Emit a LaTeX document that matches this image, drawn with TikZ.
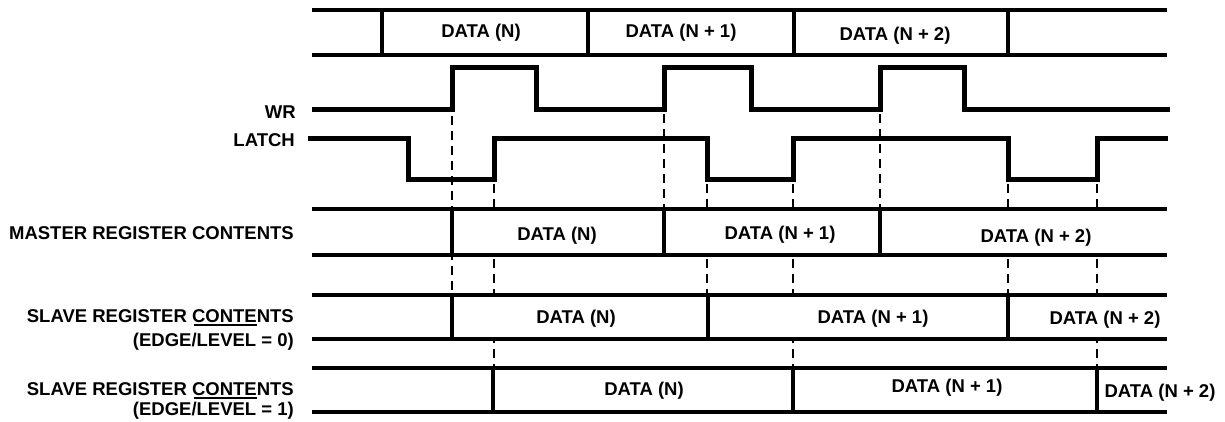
\documentclass[tikz,border=0pt]{standalone}
\usepackage{fontspec}
\setmainfont{Liberation Sans}
\newcommand\myul[1]{\setbox0=\hbox{#1}\rlap{\kern1.5pt\rule[-4pt]{\dimexpr\wd0-1.5pt\relax}{2.4pt}}\box0}
\tikzset{
  sig/.style={line width=5pt, line join=miter},
  bus/.style={line width=3.2pt},
  guide/.style={line width=2.4pt, dash pattern=on 9pt off 6pt},
  lbl/.style={font=\bfseries\fontsize{18.5}{22}\selectfont, inner sep=0pt, anchor=base},
  rlbl/.style={lbl, anchor=base east},
}
\begin{document}
\begin{tikzpicture}[x=1pt,y=-1pt]
\useasboundingbox (0,0) rectangle (1225,422);

% edge coordinates
\coordinate (g1a) at (452,116); \coordinate (g1b) at (452,295);
\coordinate (g2a) at (494,184); \coordinate (g2b) at (494,368);
\coordinate (g3a) at (664,114); \coordinate (g3b) at (664,209);
\coordinate (g4a) at (707,184); \coordinate (g4b) at (707,295);
\coordinate (g5a) at (793,184); \coordinate (g5b) at (793,368);
\coordinate (g6a) at (880,114); \coordinate (g6b) at (880,209);
\coordinate (g7a) at (1008,184); \coordinate (g7b) at (1008,295);
\coordinate (g8a) at (1097,184); \coordinate (g8b) at (1097,368);

% dashed guides
\foreach \g in {1,...,8} \draw[guide] (g\g a) -- (g\g b);

% clear guides inside rows
\fill[white] (312,209) rectangle (1167,255);
\fill[white] (312,295) rectangle (1167,339);
\fill[white] (312,368) rectangle (1167,412);

% top data bus
\draw[bus] (312,10) -- (1167,10) (312,55) -- (1167,55);
\foreach \x in {382,588,794,1008} \draw[bus] (\x,10) -- (\x,55);
\node[lbl] (t0) at (481,38) {DATA (N)};
\node[lbl] (t1) at (681,38) {DATA (N + 1)};
\node[lbl] (t2) at (895,41) {DATA (N + 2)};

% WR
\draw[sig] (312,110) -- (452,110) -- (452,68) -- (536,68) -- (536,110)
  -- (664,110) -- (664,68) -- (751,68) -- (751,110)
  -- (880,110) -- (880,68) -- (964,68) -- (964,110) -- (1170,110);
\node[rlbl] (lwr) at (296,118.5) {WR};

% LATCH
\draw[sig] (308,139) -- (408,139) -- (408,180) -- (494,180) -- (494,139)
  -- (707,139) -- (707,180) -- (793,180) -- (793,139)
  -- (1008,139) -- (1008,180) -- (1097,180) -- (1097,139) -- (1168,139);
\node[rlbl] (llatch) at (295,146.5) {LATCH};

% master register
\draw[bus] (312,209) -- (1167,209) (312,255) -- (1167,255);
\foreach \x in {452,664,880} \draw[bus] (\x,209) -- (\x,255);
\node[rlbl] (lmaster) at (294,239.5) {MASTER REGISTER CONTENTS};
\node[lbl] (m0) at (557,240) {DATA (N)};
\node[lbl] (m1) at (780,239) {DATA (N + 1)};
\node[lbl] (m2) at (1036,242) {DATA (N + 2)};

% slave register, edge/level = 0
\draw[bus] (312,295) -- (1167,295) (312,339) -- (1167,339);
\foreach \x in {452,708,1008} \draw[bus] (\x,295) -- (\x,339);
\node[rlbl] (ls0) at (294,322) {SLAVE REGISTER \myul{CONTE}NTS};
\node[rlbl] (le0) at (294,346) {(EDGE/LEVEL = 0)};
\node[lbl] (a0) at (576,323) {DATA (N)};
\node[lbl] (a1) at (873,323) {DATA (N + 1)};
\node[lbl] (a2) at (1105,324) {DATA (N + 2)};

% slave register, edge/level = 1
\draw[bus] (312,368) -- (1167,368) (312,412) -- (1167,412);
\foreach \x in {493,793,1097} \draw[bus] (\x,368) -- (\x,412);
\node[rlbl] (ls1) at (294,395) {SLAVE REGISTER \myul{CONTE}NTS};
\node[rlbl] (le1) at (294,415) {(EDGE/LEVEL = 1)};
\node[lbl] (b0) at (644,395) {DATA (N)};
\node[lbl] (b1) at (947,392) {DATA (N + 1)};
\node[lbl] (b2) at (1160,397) {DATA (N + 2)};
\end{tikzpicture}
\end{document}
